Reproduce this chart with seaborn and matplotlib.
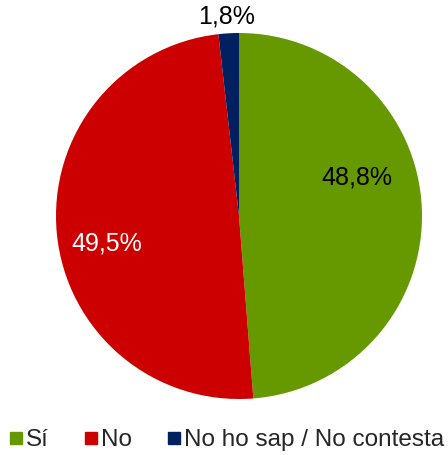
import matplotlib
matplotlib.use("Agg")
import matplotlib.pyplot as plt
from matplotlib.lines import Line2D
import seaborn as sns

# Data
categories = ["Sí", "No", "No ho sap / No contesta"]
values = [48.8, 49.5, 1.8]
labels = ["48,8%", "49,5%", "1,8%"]
colors = ["#669900", "#CC0000", "#002060"]
label_colors = ["black", "white", "black"]

sns.set_theme(style="white")
plt.rcParams['font.family'] = ['Liberation Sans', 'DejaVu Sans']

fig = plt.figure(figsize=(4.48, 4.55), dpi=100)
ax = fig.add_axes([56 / 448, 56 / 455, 366 / 448, 366 / 455])

wedges, _ = ax.pie(values, colors=colors, startangle=90, counterclock=False,
                   radius=1, wedgeprops=dict(linewidth=0))
ax.set_xlim(-1, 1)
ax.set_ylim(-1, 1)
ax.set_aspect('equal')
ax.axis('off')

# label placement (pie data units)
label_pos = [(0.645, 0.21), (-0.72, -0.15), (-0.07, 1.09)]
for (x, y), txt, c in zip(label_pos, labels, label_colors):
    ax.text(x, y, txt, ha='center', va='center', fontsize=18, color=c, clip_on=False)

handles = [Line2D([0], [0], marker='s', linestyle='', markersize=8.5,
                  markerfacecolor=c, markeredgecolor=c) for c in colors]
fig.legend(handles, categories, loc='center', bbox_to_anchor=(0.505, 15 / 455),
           ncol=3, frameon=False, fontsize=17.5, handlelength=0.6,
           handletextpad=0.1, columnspacing=1.45, borderaxespad=0)

fig.savefig("out.png", dpi=100)
